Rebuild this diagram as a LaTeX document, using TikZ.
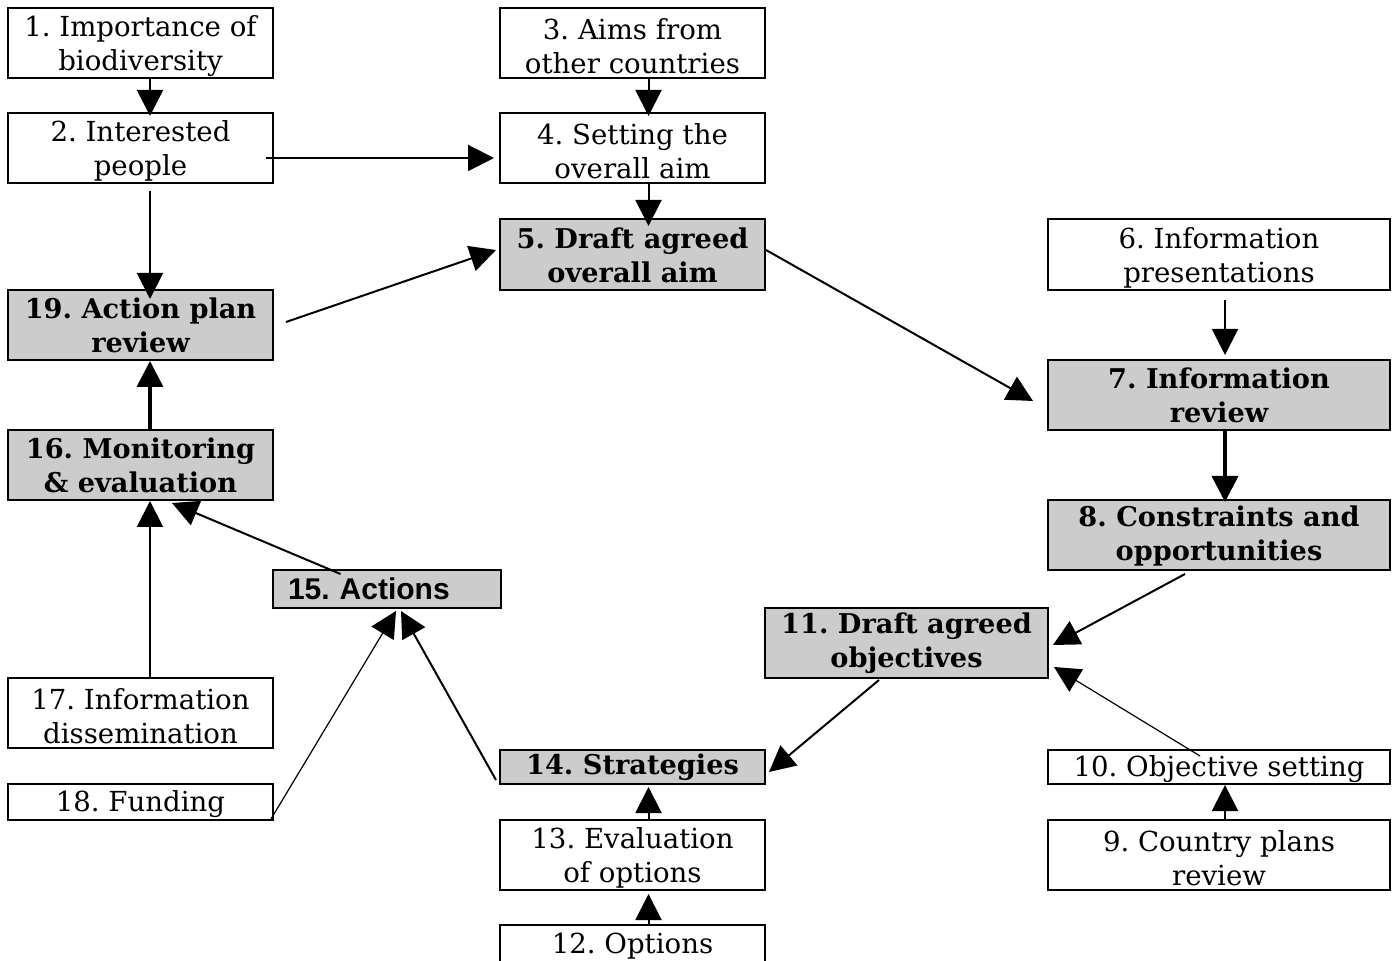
\documentclass[tikz,border=0pt]{standalone}
\usepackage{fontspec}
\setmainfont{DejaVu Serif}
\newfontfamily\actfont{Liberation Sans}
\frenchspacing
\usetikzlibrary{arrows.meta,calc}
\tikzset{
  box/.style={draw, line width=1pt, inner sep=0pt},
  gbox/.style={box, fill=black!20},
  rtext/.style={align=center, inner sep=0pt, font=\fontsize{13.8}{17}\selectfont},
  btext/.style={align=center, inner sep=0pt, font=\fontsize{13.6}{17}\selectfont\bfseries},
  arr/.style={-{Triangle[length=13pt,width=13pt]}, line width=1pt},
  thinarr/.style={arr, line width=0.6pt},
  thickarr/.style={arr, line width=1.8pt},
}
% #1 name, #2 box style, #3 x1, #4 y1, #5 x2, #6 y2, #7 text style, #8 text offset (px down), #9 text
\newcommand\mybox[9]{%
  \pgfmathsetmacro\bw{(#5-#3)*0.5}\pgfmathsetmacro\bh{(#6-#4)*0.5}%
  \node[#2, minimum width=\bw pt, minimum height=\bh pt] (#1) at ({(#3+#5)/2},{(#4+#6)/2}) {};
  \node[#7] (#1t) at ($(#1.center)+(0,#8)$) {#9};}
\begin{document}
\begin{tikzpicture}[x=0.5pt,y=-0.5pt]
\useasboundingbox (0,0) rectangle (1396,961);
% boxes
\mybox{n1}{box}{8}{8}{273}{78}{rtext}{3}{1. Importance of\\biodiversity}
\mybox{n2}{box}{8}{113}{273}{183}{rtext}{3}{2. Interested\\people}
\mybox{n3}{box}{500}{8}{765}{78}{rtext}{3}{3. Aims from\\other countries}
\mybox{n4}{box}{500}{113}{765}{183}{rtext}{3}{4. Setting the\\overall aim}
\mybox{n5}{gbox}{500}{219}{765}{290}{btext}{0.5}{5. Draft agreed\\overall aim}
\mybox{n6}{box}{1048}{219}{1390}{290}{rtext}{3}{6. Information\\presentations}
\mybox{n7}{gbox}{1048}{360}{1390}{430}{btext}{0.5}{7. Information\\review}
\mybox{n8}{gbox}{1048}{500}{1390}{570}{btext}{0.5}{8. Constraints and\\opportunities}
\mybox{n11}{gbox}{765}{608}{1048}{678}{btext}{0.5}{11. Draft agreed\\objectives}
\mybox{n10}{box}{1048}{750}{1390}{784}{rtext}{2.5}{10. Objective setting}
\mybox{n9}{box}{1048}{820}{1390}{890}{rtext}{3}{9. Country plans\\review}
\mybox{n14}{gbox}{500}{750}{765}{784}{btext}{0.5}{14. Strategies}
\mybox{n13}{box}{500}{820}{765}{890}{rtext}{3}{13. Evaluation\\of options}
\mybox{n12}{box}{500}{925}{765}{963}{rtext}{2.5}{12. Options}
\mybox{n16}{gbox}{8}{430}{273}{500}{btext}{0.5}{16. Monitoring\\\& evaluation}
\mybox{n17}{box}{8}{678}{273}{748}{rtext}{3}{17. Information\\dissemination}
\mybox{n18}{box}{8}{784}{273}{820}{rtext}{2.5}{18. Funding}
\mybox{n19}{gbox}{8}{290}{273}{360}{btext}{0.5}{19. Action plan\\review}
\node[draw, line width=1pt, fill=black!20, inner xsep=7.5pt, inner ysep=0pt,
  text width=99pt, align=left, minimum height=19pt,
  font=\actfont\fontsize{15}{17}\selectfont\bfseries] (n15) at (387,589) {15. Actions};
% connectors
\draw[arr] ($(n1.south)+(9.5,0)$) -- ($(n2.north)+(9.5,4)$);
\draw[arr] ($(n2.east)+(-8,10)$) -- ($(n4.west)+(-5,10)$);
\draw[arr] ($(n3.south)+(16,0)$) -- ($(n4.north)+(16,4)$);
\draw[arr] ($(n4.south)+(16,0)$) -- ($(n5.north)+(16,8)$);
\draw[arr] ($(n2.south)+(9.5,7)$) -- ($(n19.north)+(9.5,10)$);
\draw[arr] ($(n19.east)+(12,-3)$) -- ($(n5.west)+(-3,-4.5)$);
\draw[arr] ($(n5.east)+(0,-4.5)$) -- ($(n7.west)+(-14,6)$);
\draw[arr] ($(n6.south)+(6,9)$) -- ($(n7.north)+(6,-4)$);
\draw[thickarr] ($(n7.south)+(6,0)$) -- ($(n8.north)+(6,3)$);
\draw[arr] ($(n8.south)+(-34,3)$) -- ($(n11.east)+(4,2)$);
\draw[thinarr] ($(n10.north)+(-19,7)$) -- ($(n11.east)+(5,24)$);
\draw[arr] ($(n9.north)+(6,0)$) -- ($(n10.south)+(6,0)$);
\draw[arr] ($(n11.south)+(-27.5,1)$) -- ($(n14.east)+(3,5)$);
\draw[arr] ($(n13.north)+(16,0)$) -- ($(n14.south)+(16,2)$);
\draw[arr] ($(n12.north)+(16,0)$) -- ($(n13.south)+(16,3)$);
\draw[arr] ($(n14.west)+(-3,13)$) -- ($(n15.south)+(14,2)$);
\draw[thinarr] ($(n18.south east)+(-3,-2)$) -- ($(n15.south)+(9,2)$);
\draw[arr] ($(n17.north)+(9.5,0)$) -- ($(n16.south)+(9.5,0)$);
\draw[arr] ($(n15.north)+(-46.5,5)$) -- ($(n16.south)+(31.5,2)$);
\draw[thickarr] ($(n16.north)+(9.5,0)$) -- ($(n19.south)+(9.5,0)$);
\end{tikzpicture}
\end{document}
